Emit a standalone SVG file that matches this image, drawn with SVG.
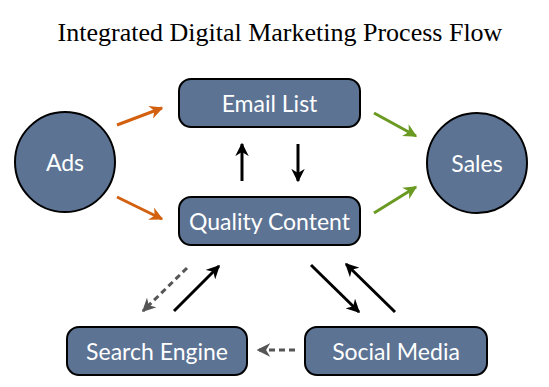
<svg xmlns="http://www.w3.org/2000/svg" width="549" height="387" viewBox="0 0 549 387">
<defs>
<style>
.node{fill:#5c7393;stroke:#000;stroke-width:2}
.lbl{fill:#fff;font-family:Lato,"Open Sans",sans-serif;font-size:23px;text-anchor:middle;dominant-baseline:central}
.title{fill:#000;font-family:"Liberation Serif",serif;font-size:26px;text-anchor:middle}
.or{stroke:#d2600e;stroke-width:3;fill:none;marker-end:url(#mo)}
.gr{stroke:#6a9a22;stroke-width:3;fill:none;marker-end:url(#mg)}
.bk{stroke:#000;stroke-width:3;fill:none;marker-end:url(#mb)}
.ds{stroke:#555;stroke-width:3;fill:none;stroke-dasharray:6 4;marker-end:url(#md)}
</style>
<marker id="mo" viewBox="0 0 10 10" refX="9" refY="5" markerWidth="4.5" markerHeight="4.5" orient="auto" markerUnits="strokeWidth"><path d="M0,0L10,5L0,10L3,5Z" fill="#d2600e"/></marker>
<marker id="mg" viewBox="0 0 10 10" refX="9" refY="5" markerWidth="4.5" markerHeight="4.5" orient="auto" markerUnits="strokeWidth"><path d="M0,0L10,5L0,10L3,5Z" fill="#6a9a22"/></marker>
<marker id="mb" viewBox="0 0 10 10" refX="9" refY="5" markerWidth="4.5" markerHeight="4.5" orient="auto" markerUnits="strokeWidth"><path d="M0,0L10,5L0,10L3,5Z" fill="#000"/></marker>
<marker id="md" viewBox="0 0 10 10" refX="9" refY="5" markerWidth="4.5" markerHeight="4.5" orient="auto" markerUnits="strokeWidth"><path d="M0,0L10,5L0,10L3,5Z" fill="#555"/></marker>
</defs>
<rect width="549" height="387" fill="#fff"/>
<text class="title" x="280" y="41">Integrated Digital Marketing Process Flow</text>
<g id="connectors">
<line class="or" x1="117" y1="125" x2="162" y2="108"/>
<line class="or" x1="117" y1="197" x2="162" y2="219"/>
<line class="gr" x1="374" y1="113" x2="416" y2="136"/>
<line class="gr" x1="374" y1="213" x2="416" y2="187"/>
<line class="bk" x1="242" y1="181" x2="242" y2="144"/>
<line class="bk" x1="298" y1="144" x2="298" y2="181"/>
<line class="bk" x1="174" y1="311" x2="219" y2="266"/>
<line class="ds" x1="187" y1="268" x2="143" y2="311"/>
<line class="bk" x1="311" y1="265" x2="359" y2="312"/>
<line class="bk" x1="395" y1="312" x2="346" y2="264"/>
<line class="ds" x1="295" y1="350" x2="258" y2="350"/>
</g>
<g id="ads"><circle class="node" cx="65" cy="162" r="50"/><text class="lbl" x="65" y="162">Ads</text></g>
<g id="sales"><circle class="node" cx="477" cy="163" r="50"/><text class="lbl" x="477" y="163">Sales</text></g>
<g id="email"><rect class="node" x="179" y="79" width="181" height="48" rx="12"/><text class="lbl" x="269.5" y="103">Email List</text></g>
<g id="quality"><rect class="node" x="179" y="197" width="181" height="48" rx="12"/><text class="lbl" x="269.5" y="221">Quality Content</text></g>
<g id="search"><rect class="node" x="67" y="327" width="180" height="48" rx="12"/><text class="lbl" x="157" y="351">Search Engine</text></g>
<g id="social"><rect class="node" x="305" y="327" width="182" height="48" rx="12"/><text class="lbl" x="396" y="351">Social Media</text></g>
</svg>
